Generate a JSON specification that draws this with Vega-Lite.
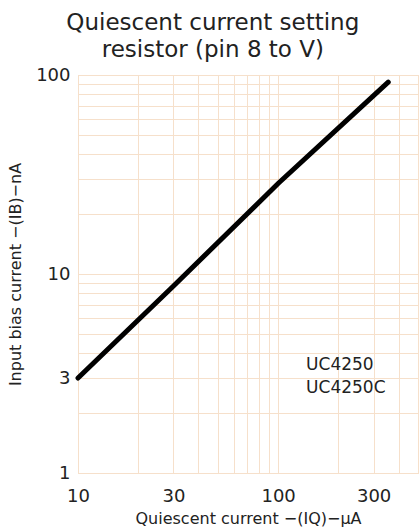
{
  "$schema": "https://vega.github.io/schema/vega-lite/v6.json",
  "width": 340,
  "height": 398,
  "autosize": {"type": "none"},
  "padding": {"left": 78, "top": 75, "right": 1, "bottom": 57},
  "background": "white",
  "config": {
    "font": "DejaVu Sans",
    "view": {"stroke": "#f3d9c0", "strokeWidth": 1}
  },
  "title": {
    "text": ["Quiescent current setting", "resistor (pin 8 to V)"],
    "fontSize": 23,
    "fontWeight": "normal",
    "color": "#222",
    "anchor": "middle",
    "frame": "bounds",
    "lineHeight": 27,
    "offset": 4
  },
  "datasets": {
    "curve": [
      {"iq": 10, "ib": 3},
      {"iq": 30, "ib": 8.7},
      {"iq": 100, "ib": 28.5},
      {"iq": 355, "ib": 92}
    ],
    "notes": [
      {"iq": 138, "ib": 3.49, "label": "UC4250"},
      {"iq": 138, "ib": 2.67, "label": "UC4250C"}
    ]
  },
  "layer": [
    {
      "data": {"name": "curve"},
      "mark": {"type": "line", "color": "black", "strokeWidth": 5, "strokeCap": "round"},
      "encoding": {
        "x": {
          "field": "iq", "type": "quantitative",
          "scale": {"type": "log", "domain": [10, 500], "nice": false},
          "axis": {
            "values": [10, 20, 30, 40, 50, 60, 70, 80, 90, 100, 200, 300, 400, 500],
            "labelExpr": "indexof([10, 30, 100, 300], datum.value) >= 0 ? datum.label : ''",
            "format": "d",
            "title": "Quiescent current −(IQ)−μA",
            "titleFontSize": 16,
            "titleFontWeight": "normal",
            "titleColor": "#222",
            "titlePadding": 5,
            "labelFontSize": 18,
            "labelColor": "#222",
            "labelPadding": 14,
            "labelFlush": false,
            "ticks": false,
            "domain": false,
            "grid": true,
            "gridColor": "#f6e0cb",
            "gridWidth": 1
          }
        },
        "y": {
          "field": "ib", "type": "quantitative",
          "scale": {"type": "log", "domain": [1, 100], "nice": false},
          "axis": {
            "values": [1, 2, 3, 4, 5, 6, 7, 8, 9, 10, 20, 30, 40, 50, 60, 70, 80, 90, 100],
            "labelExpr": "indexof([1, 3, 10, 100], datum.value) >= 0 ? datum.label : ''",
            "format": "d",
            "title": "Input bias current −(IB)−nA",
            "titleFontSize": 16,
            "titleFontWeight": "normal",
            "titleColor": "#222",
            "titlePadding": 12,
            "labelFontSize": 18,
            "labelColor": "#222",
            "labelPadding": 8,
            "labelFlush": false,
            "ticks": false,
            "domain": false,
            "grid": true,
            "gridColor": "#f6e0cb",
            "gridWidth": 1
          }
        }
      }
    },
    {
      "data": {"name": "notes"},
      "mark": {"type": "text", "align": "left", "baseline": "middle", "fontSize": 17, "color": "#222"},
      "encoding": {
        "x": {"field": "iq", "type": "quantitative"},
        "y": {"field": "ib", "type": "quantitative"},
        "text": {"field": "label"}
      }
    }
  ]
}
